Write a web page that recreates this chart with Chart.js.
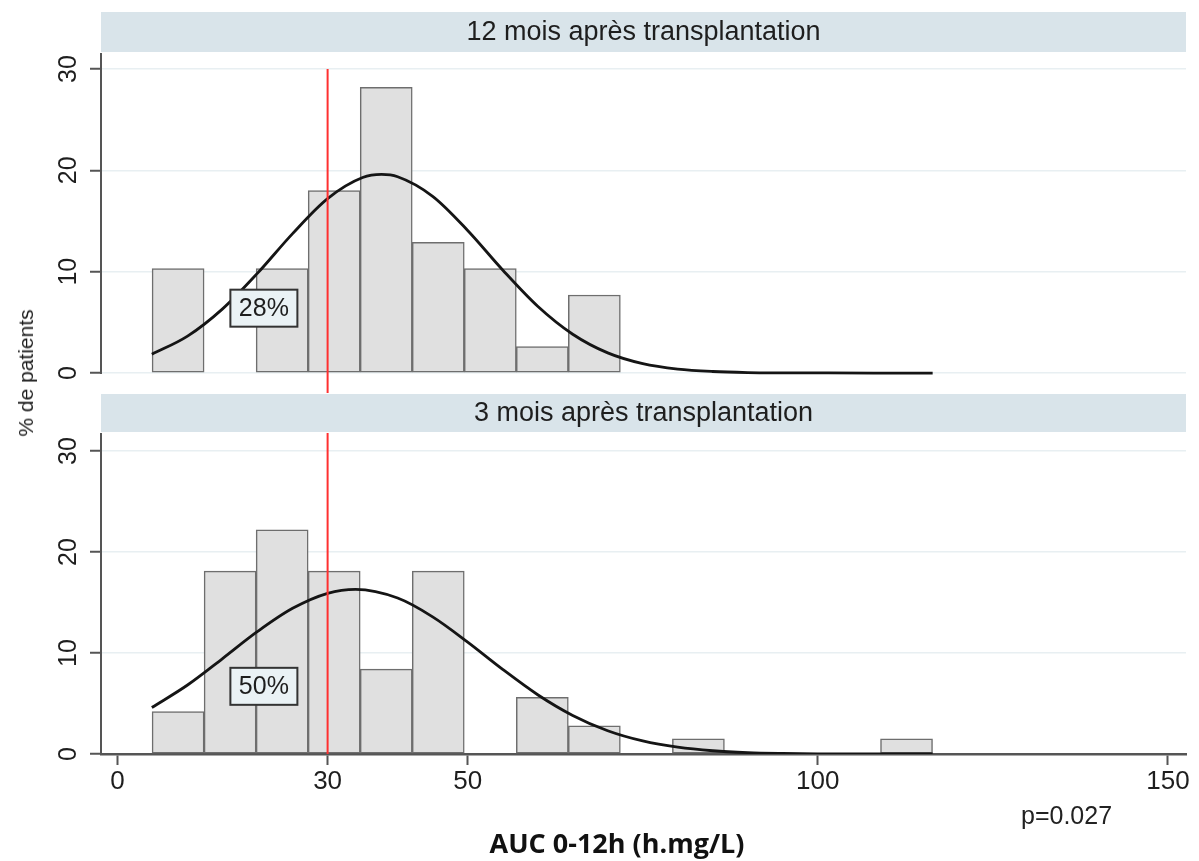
<!DOCTYPE html>
<html><head><meta charset="utf-8">
<script src="https://cdn.jsdelivr.net/npm/chart.js@4.4.1/dist/chart.umd.min.js"></script>
<style>
html,body{margin:0;padding:0;background:#fff;}
#wrap{position:relative;width:1199px;height:861px;overflow:hidden;background:#fff;}
canvas{position:absolute;left:0;}
#c12{top:0;}
#c3{top:394px;}
#ytitle{position:absolute;left:26px;top:373px;transform:translate(-50%,-50%) rotate(-90deg);font:21px "Liberation Sans",Arial,Helvetica,sans-serif;color:#1a1a1a;white-space:nowrap;}
</style></head><body>
<div id="wrap">
<canvas id="c12" width="1199" height="394"></canvas>
<canvas id="c3" width="1199" height="467"></canvas>
<div id="ytitle">% de patients</div>
</div>
<script>
// ---- data ----
const binCenters = [8.65, 16.08, 23.51, 30.94, 38.37, 45.80, 53.23, 60.66, 68.09, 75.52, 82.95, 90.38, 97.81, 105.24, 112.67];
const pct12 = [10.3, 0, 10.3, 18.0, 28.2, 12.9, 10.3, 2.6, 7.7];
const pct3 = [4.2, 18.1, 22.2, 18.1, 8.4, 18.1, 0, 5.6, 2.8, 0, 1.5, 0, 0, 0, 1.5];
const curve12X = [4.9, 10, 15, 20, 25, 30, 35, 37.7, 40, 45, 50, 55, 60, 65, 70, 75, 80, 85, 90, 95, 100, 108, 116.4];
const curve12Y = [1.85, 3.64, 6.33, 9.86, 13.76, 17.21, 19.29, 19.6, 19.37, 17.44, 14.07, 10.17, 6.59, 3.83, 1.99, 0.93, 0.39, 0.15, 0.05, 0.02, 0.01, 0, 0];
const curve3X = [4.9, 10, 15, 20, 25, 30, 34, 40, 45, 50, 55, 60, 65, 70, 75, 80, 85, 90, 95, 100, 108, 116.4];
const curve3Y = [4.6, 6.83, 9.45, 12.13, 14.42, 15.91, 16.3, 15.44, 13.58, 11.08, 8.38, 5.87, 3.82, 2.30, 1.29, 0.67, 0.32, 0.14, 0.06, 0.02, 0, 0];
const threshold = 30;
const xTicks = [0, 30, 50, 100, 150];
const yTicks = [0, 10, 20, 30];
const panelTitles = ['12 mois après transplantation', '3 mois après transplantation'];
const boxLabels = ['28%', '50%'];
const boxX = [20.9, 20.9];
const boxY = [6.4, 6.7];
const xRange = [-2.36, 152.58];
const yRange12 = [-1.97, 31.58];
const yRange3 = [0, 31.78];
const pText = 'p=0.027';
const xTitle = 'AUC 0-12h (h.mg/L)';

const FONT = '"Liberation Sans", Arial, Helvetica, sans-serif';

const panelPlugin = {
  id: 'panel',
  beforeDraw(chart, args, o) {
    const {ctx, chartArea: a} = chart;
    ctx.save();
    ctx.fillStyle = '#d9e4ea';
    ctx.fillRect(a.left, a.top - o.gap - o.stripH, a.right - a.left, o.stripH);
    ctx.fillStyle = '#1e1e1e';
    ctx.font = '27px ' + FONT;
    ctx.textAlign = 'center';
    ctx.textBaseline = 'middle';
    ctx.fillText(o.title, (a.left + a.right) / 2, a.top - o.gap - o.stripH / 2 + 1);
    ctx.restore();
  },
  afterDatasetsDraw(chart, args, o) {
    const {ctx, chartArea: a} = chart;
    const xs = chart.scales.x, ys = chart.scales.y;
    ctx.save();
    ctx.strokeStyle = '#555';
    ctx.lineWidth = 2;
    ctx.beginPath();
    ctx.moveTo(a.left, a.top);
    ctx.lineTo(a.left, ys.getPixelForValue(0) + 1);
    ctx.stroke();
    const cx = xs.getPixelForValue(o.boxX), cy = ys.getPixelForValue(o.boxY);
    const w = 67, h = 37;
    ctx.fillStyle = '#eaf2f5';
    ctx.fillRect(cx - w / 2, cy - h / 2, w, h);
    ctx.strokeStyle = '#333';
    ctx.lineWidth = 2;
    ctx.strokeRect(cx - w / 2, cy - h / 2, w, h);
    ctx.fillStyle = '#1e1e1e';
    ctx.font = '25px ' + FONT;
    ctx.textAlign = 'center';
    ctx.textBaseline = 'middle';
    ctx.fillText(o.boxText, cx, cy + 1);
    ctx.restore();
  },
  afterDraw(chart, args, o) {
    if (!o.footer) return;
    const {ctx} = chart;
    ctx.save();
    ctx.fillStyle = '#222';
    ctx.font = '25px ' + FONT;
    ctx.textAlign = 'left';
    ctx.textBaseline = 'middle';
    ctx.fillText(pText, 1021, 423);
    ctx.fillStyle = '#111';
    ctx.font = 'bold 27px "Open Sans", "Liberation Sans", Arial, sans-serif';
    ctx.textAlign = 'center';
    ctx.fillText(xTitle, 617, 451);
    ctx.restore();
  }
};

function makeChart(id, o) {
  const bars = o.pct.map((v, i) => ({x: binCenters[i], y: v}));
  const curve = o.cx.map((v, i) => ({x: v, y: o.cy[i]}));
  return new Chart(document.getElementById(id), {
    type: 'bar',
    data: {datasets: [
      {type: 'line', data: o.red, borderColor: '#ff3030', borderWidth: 2, pointRadius: 0, order: 0},
      {type: 'line', data: curve, borderColor: '#151515', borderWidth: 2.8, pointRadius: 0, cubicInterpolationMode: 'monotone', order: 1},
      {type: 'bar', data: bars, backgroundColor: '#e0e0e0', borderColor: '#6e6e6e', borderWidth: 1.5, borderSkipped: false, barPercentage: 1, categoryPercentage: 1, grouped: false, order: 2}
    ]},
    options: {
      responsive: false, animation: false, devicePixelRatio: 1,
      layout: {padding: {top: o.padTop, right: 13, bottom: o.padBottom, left: 0}},
      plugins: {
        legend: {display: false}, tooltip: {enabled: false},
        panel: {title: o.title, stripH: o.stripH, gap: 1, boxX: o.boxX, boxY: o.boxY, boxText: o.boxText, footer: o.footer}
      },
      scales: {
        x: {
          type: 'linear', min: xRange[0], max: xRange[1], offset: false, display: o.showX,
          grid: {display: true, drawOnChartArea: false, drawTicks: true, tickLength: 11, tickColor: '#555', tickWidth: 2, offset: false},
          border: {display: true, color: '#555', width: 2.5},
          ticks: {font: {family: FONT, size: 26}, color: '#1e1e1e', padding: 1, maxRotation: 0, minRotation: 0, autoSkip: false},
          afterBuildTicks: s => { s.ticks = xTicks.map(v => ({value: v})); },
          afterFit: s => { s.height = o.showX ? 107 : 0; s.paddingLeft = 0; s.paddingRight = 0; }
        },
        y: {
          type: 'linear', min: o.yr[0], max: o.yr[1],
          grid: {color: '#e8eff2', lineWidth: 1.5, tickLength: 11, tickColor: '#555', tickWidth: 2},
          border: {display: false},
          ticks: {font: {family: FONT, size: 25}, color: '#1e1e1e', minRotation: 90, maxRotation: 90, crossAlign: 'center', padding: 7},
          afterBuildTicks: s => { s.ticks = yTicks.map(v => ({value: v})); },
          afterFit: s => { s.width = 101; s.paddingTop = 0; s.paddingBottom = 0; }
        }
      }
    },
    plugins: [panelPlugin]
  });
}

makeChart('c12', {
  pct: pct12, cx: curve12X, cy: curve12Y,
  red: [{x: threshold, y: yTicks[yTicks.length - 1]}, {x: threshold, y: yRange12[0]}],
  padTop: 53, padBottom: 1, title: panelTitles[0], stripH: 40,
  boxX: boxX[0], boxY: boxY[0], boxText: boxLabels[0], showX: false, yr: yRange12, footer: false
});
makeChart('c3', {
  pct: pct3, cx: curve3X, cy: curve3Y,
  red: [{x: threshold, y: yRange3[1]}, {x: threshold, y: 0}],
  padTop: 39, padBottom: 0, title: panelTitles[1], stripH: 38,
  boxX: boxX[1], boxY: boxY[1], boxText: boxLabels[1], showX: true, yr: yRange3, footer: true
});
</script>
</body></html>
